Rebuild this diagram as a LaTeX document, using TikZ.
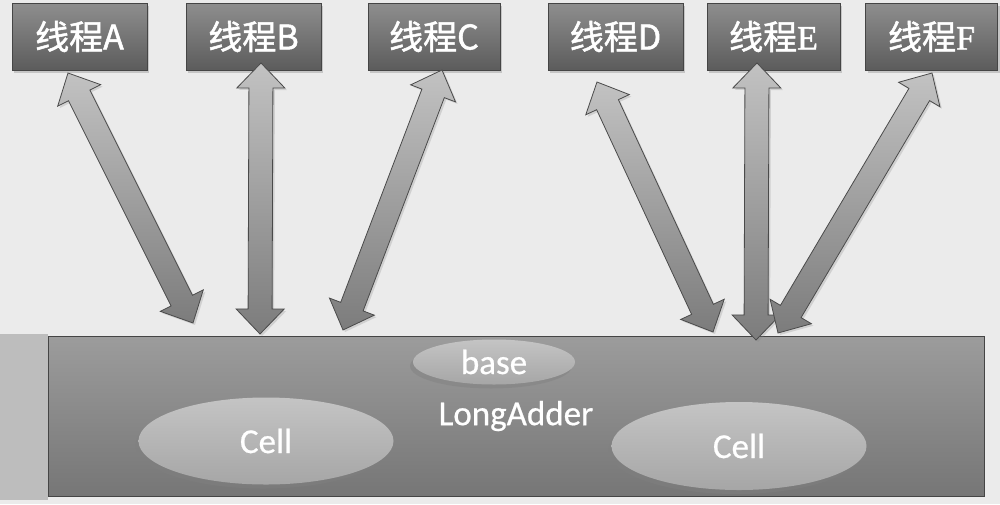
\documentclass[tikz,border=0pt]{standalone}
\usepackage{fontspec}
\setmainfont{Carlito}[FakeBold=0.6]
\newfontfamily\cjk{Noto Sans CJK SC}[FakeBold=1.5]
\newfontfamily\serifl{Liberation Serif}[FakeBold=1.5]
\usetikzlibrary{shadows,shapes.geometric}
\definecolor{bg}{HTML}{EBEBEB}
\definecolor{boxtop}{HTML}{8E8E8E}
\definecolor{boxbot}{HTML}{5C5C5C}
\definecolor{boxline}{HTML}{454545}
\definecolor{arrlight}{HTML}{C2C2C2}
\definecolor{arrdark}{HTML}{7C7C7C}
\definecolor{arrline}{HTML}{4A4A4A}
\definecolor{adtop}{HTML}{9C9C9C}
\definecolor{admid}{HTML}{ABABAB}
\definecolor{adbot}{HTML}{767676}
\definecolor{elltop}{HTML}{C4C4C4}
\definecolor{ellbot}{HTML}{A6A6A6}
\definecolor{strip}{HTML}{BDBDBD}
\tikzset{
  threadbox/.style={draw=boxline, line width=0.8pt, top color=boxtop, bottom color=boxbot,
    minimum height=67pt, inner sep=0pt, text=white,
    font=\cjk\fontsize{34}{36}\selectfont,
    drop shadow={shadow xshift=2pt, shadow yshift=-3pt, opacity=0.35}},
  blockarrow/.style={draw=arrline, line width=0.8pt, top color=arrlight, bottom color=arrdark,
    drop shadow={shadow xshift=2pt, shadow yshift=-2pt, opacity=0.25}},
  adderbox/.style={draw=boxline, line width=0.8pt, top color=adtop, middle color=admid, bottom color=adbot,
    minimum width=936pt, minimum height=160pt, inner sep=0pt, text=white,
    font=\fontsize{35}{38}\selectfont},
  cellell/.style={ellipse, top color=elltop, bottom color=ellbot, draw=none, text=white,
    inner sep=0pt, font=\fontsize{35}{38}\selectfont,
    drop shadow={shadow xshift=-3pt, shadow yshift=-4pt, opacity=0.45}},
}
\def\bahl{25}\def\bahw{24}\def\basw{12}
\newcommand\blockarrow[2]{%
  \pgfpointdiff{\pgfpointanchor{#1}{center}}{\pgfpointanchor{#2}{center}}%
  \pgfgetlastxy{\bax}{\bay}%
  \pgfmathsetmacro\baang{atan2(\bay,\bax)}%
  \pgfmathsetmacro\balen{veclen(\bax,\bay)}%
  \pgfmathsetmacro\baend{\balen-\bahl}%
  \begin{scope}[shift={(#1)}, rotate=\baang]
    \draw[blockarrow] (0pt,0pt) -- (\bahl pt,\bahw pt) -- (\bahl pt,\basw pt)
      -- (\baend pt,\basw pt) -- (\baend pt,\bahw pt) -- (\balen pt,0pt)
      -- (\baend pt,-\bahw pt) -- (\baend pt,-\basw pt) -- (\bahl pt,-\basw pt)
      -- (\bahl pt,-\bahw pt) -- cycle;
  \end{scope}}
\begin{document}
\begin{tikzpicture}[x=1pt,y=-1pt]
\useasboundingbox (0,0) rectangle (1000,504);
\fill[bg] (0,0) rectangle (1000,504);
% left strip
\fill[strip] (0,334) rectangle (48,500);
% main LongAdder box
\node[adderbox] (adder) at (516,416) {LongAdder};
\node[cellell, minimum width=162pt, minimum height=45pt] (base) at (494,362) {base};
\node[cellell, minimum width=255pt, minimum height=87pt] (cell1) at (266,441) {Cell};
\node[cellell, minimum width=255pt, minimum height=88pt] (cell2) at (739,446) {Cell};
% thread boxes
\node[threadbox, minimum width=135pt] (tA) at (79.5,36.5) {线程A};
\node[threadbox, minimum width=135pt] (tB) at (253.5,36.5) {线程B};
\node[threadbox, minimum width=132pt] (tC) at (434,36.5) {线程C};
\node[threadbox, minimum width=135pt] (tD) at (615.5,36.5) {线程D};
\node[threadbox, minimum width=133pt] (tE) at (773.5,36.5) {线程{\serifl E}};
\node[threadbox, minimum width=132pt] (tF) at (931.5,36.5) {线程{\serifl F}};
% arrow end points
\coordinate (a1) at (68,73);   \coordinate (a2) at (193,323);
\coordinate (b1) at (261,63);  \coordinate (b2) at (260,334);
\coordinate (c1) at (442,70);  \coordinate (c2) at (343,330);
\coordinate (d1) at (597,82);  \coordinate (d2) at (713,332);
\coordinate (e1) at (757,63);  \coordinate (e2) at (756,340);
\coordinate (f1) at (932,73);  \coordinate (f2) at (778,333);
\blockarrow{a1}{a2}
\blockarrow{b1}{b2}
\blockarrow{c1}{c2}
\blockarrow{d1}{d2}
\blockarrow{e1}{e2}
\blockarrow{f1}{f2}
\end{tikzpicture}
\end{document}
